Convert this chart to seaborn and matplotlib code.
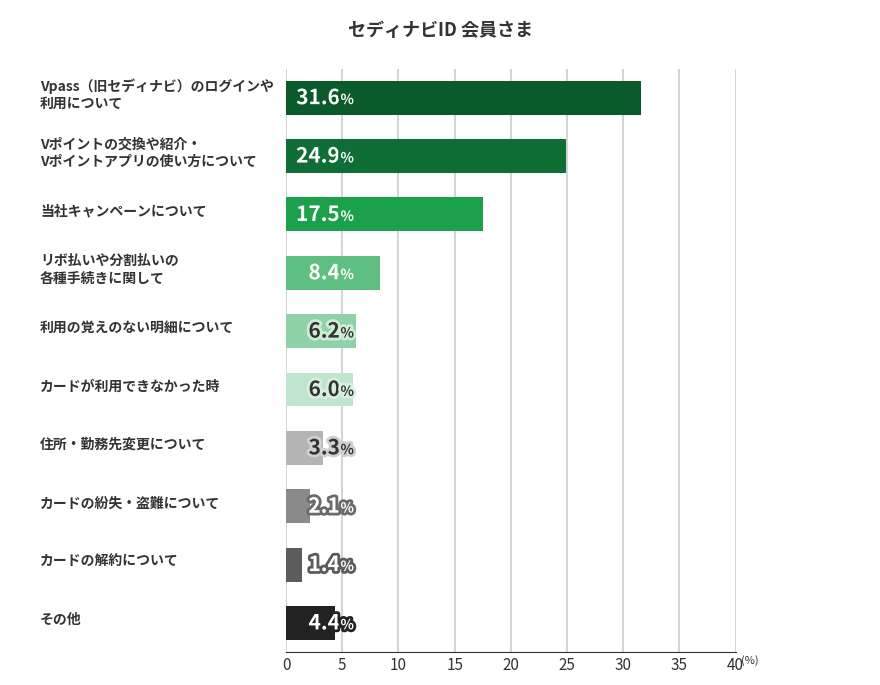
import matplotlib
matplotlib.use('Agg')
import matplotlib.pyplot as plt
import matplotlib.patheffects as pe
import seaborn as sns
import pandas as pd

plt.rcParams['font.family'] = 'Noto Sans CJK JP'

categories = [
    'Vpass（旧セディナビ）のログインや\n利用について',
    'Vポイントの交換や紹介・\nVポイントアプリの使い方について',
    '当社キャンペーンについて',
    'リボ払いや分割払いの\n各種手続きに関して',
    '利用の覚えのない明細について',
    'カードが利用できなかった時',
    '住所・勤務先変更について',
    'カードの紛失・盗難について',
    'カードの解約について',
    'その他',
]
values = [31.6, 24.9, 17.5, 8.4, 6.2, 6.0, 3.3, 2.1, 1.4, 4.4]
colors = ['#0a5a2b', '#0f6e35', '#1ba04c', '#5fbf82', '#8fd2a8', '#bfe5cc',
          '#b4b4b4', '#8a8a8a', '#5c5c5c', '#222222']
text_colors = ['white', 'white', 'white', 'white', '#333333', '#333333',
               '#333333', 'white', 'white', 'white']
stroke_colors = ['#0a5a2b', '#0f6e35', '#1ba04c', '#5fbf82', '#cdebd7', '#d8efdf',
                 '#d0d0d0', '#6a6a6a', '#5c5c5c', '#222222']

df = pd.DataFrame({'cat': categories, 'val': values})

fig = plt.figure(figsize=(8.8, 6.85), dpi=100)
ax = fig.add_axes([0.325, 0.048, 0.511, 0.852])
sns.barplot(data=df, x='val', y='cat', hue='cat', palette=colors, legend=False,
            saturation=1, width=0.58, ax=ax, zorder=3)

ax.set_xlim(0, 40)
ax.set_xticks(range(0, 41, 5))
ax.set_xticklabels([str(t) for t in range(0, 41, 5)], fontsize=11, color='#333333')
ax.text(1.012, -0.005, '(%)', fontsize=8, color='#333333', va='top', ha='left',
        transform=ax.transAxes)
ax.grid(axis='x', color='#cccccc', linewidth=1.2, zorder=0)
ax.set_axisbelow(True)
for s in ['top', 'right', 'left']:
    ax.spines[s].set_visible(False)
ax.spines['bottom'].set_color('#333333')
ax.tick_params(axis='both', length=0)
ax.set_yticks(range(len(categories)))
ax.set_yticklabels([])
ax.set_xlabel('')
ax.set_ylabel('')

for i, c in enumerate(categories):
    ax.text(-0.547, i - 0.05, c, fontsize=10, fontweight='bold', color='#333333',
            ha='left', va='center', linespacing=1.3,
            transform=ax.get_yaxis_transform())

for i, v in enumerate(values):
    ax.text(4.8, i, f'{v}', fontsize=15, fontweight='bold', color=text_colors[i],
            ha='right', va='center', zorder=5,
            path_effects=[pe.withStroke(linewidth=4, foreground=stroke_colors[i])])
    ax.text(4.85, i + 0.04, '%', fontsize=10, fontweight='bold', color=text_colors[i],
            ha='left', va='center', zorder=5,
            path_effects=[pe.withStroke(linewidth=4, foreground=stroke_colors[i])])

fig.text(0.5, 0.955, 'セディナビID 会員さま', ha='center', va='center',
         fontsize=13, fontweight='bold', color='#333333')

fig.savefig('out.png', dpi=100)
